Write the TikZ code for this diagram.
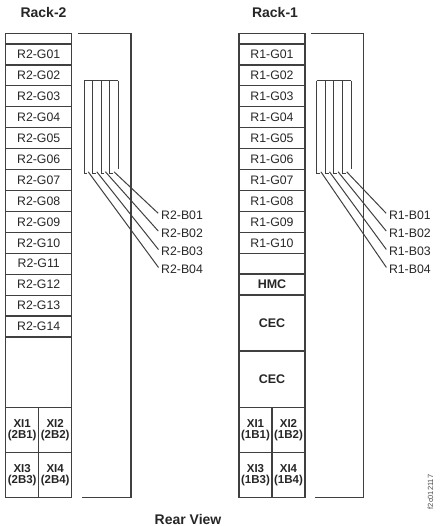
\documentclass[tikz,border=0pt]{standalone}
\usepackage{fontspec}
\setmainfont{Liberation Sans}
\begin{document}
\begin{tikzpicture}[x=1pt,y=-1pt,
  every node/.style={text=black!85},
  ln/.style={draw=black!75,line width=1.2pt},
  row/.style={draw=black!75,line width=1.2pt,minimum width=66pt,inner sep=0pt,font=\fontsize{12.3}{12}\selectfont,anchor=center},
  xi/.style={draw=black!75,line width=1.2pt,minimum width=33pt,inner sep=0pt,font=\bfseries\fontsize{11.5}{11}\selectfont,align=center,anchor=center},
  title/.style={font=\bfseries\fontsize{14}{14}\selectfont},
  blab/.style={anchor=west,inner sep=1pt,font=\fontsize{12.3}{12}\selectfont},
  cab/.style={draw=black!75,line width=1pt}]
\useasboundingbox (0,0) rectangle (439,526);
% titles
\node[title] (t2) at (43.5,13) {Rack-2};
\node[title] (t1) at (275,13) {Rack-1};
\node[title] (rv) at (188,519) {Rear View};
\node[rotate=90,font=\fontsize{7.5}{7.5}\selectfont,text=black!70] (fig) at (430.5,492) {f2c012117};
% ---------- Rack-2 stack
\node[row,minimum height=10.7pt] (r2top) at (38.7,38.65) {};
\foreach \k in {1,...,9}{
  \node[row,minimum height=20.93pt] (r2g\k) at (38.7,{44+(\k-0.5)*20.93}) {R2-G0\k};}
\foreach \k in {10,...,14}{
  \node[row,minimum height=20.93pt] (r2g\k) at (38.7,{44+(\k-0.5)*20.93}) {R2-G\k};}
\node[row,minimum height=70.8pt] (r2blank) at (38.7,372.3) {};
\node[xi,minimum height=45pt] (r2x1) at (22.2,430.2) {XI1\\(2B1)};
\node[xi,minimum height=45pt] (r2x2) at (55.2,430.2) {XI2\\(2B2)};
\node[xi,minimum height=44.6pt] (r2x3) at (22.2,475) {XI3\\(2B3)};
\node[xi,minimum height=44.6pt] (r2x4) at (55.2,475) {XI4\\(2B4)};
% ---------- Rack-1 stack
\node[row,minimum height=10.7pt] (r1top) at (272,38.65) {};
\foreach \k in {1,...,9}{
  \node[row,minimum height=20.93pt] (r1g\k) at (272,{44+(\k-0.5)*20.93}) {R1-G0\k};}
\node[row,minimum height=20.93pt] (r1g10) at (272,{44+9.5*20.93}) {R1-G10};
\node[row,minimum height=20.7pt] (r1blank) at (272,263.65) {};
\node[row,minimum height=21pt,font=\bfseries\fontsize{12.5}{12}\selectfont] (hmc) at (272,284.5) {HMC};
\node[row,minimum height=56pt,font=\bfseries\fontsize{12.5}{12}\selectfont] (cec1) at (272,323) {CEC};
\node[row,minimum height=56.7pt,font=\bfseries\fontsize{12.5}{12}\selectfont] (cec2) at (272,379.35) {CEC};
\node[xi,minimum height=45pt] (r1x1) at (255.5,430.2) {XI1\\(1B1)};
\node[xi,minimum height=45pt] (r1x2) at (288.5,430.2) {XI2\\(1B2)};
\node[xi,minimum height=44.6pt] (r1x3) at (255.5,475) {XI3\\(1B3)};
\node[xi,minimum height=44.6pt] (r1x4) at (288.5,475) {XI4\\(1B4)};
% ---------- frames
\draw[ln] (78,33.3) -- (131,33.3) -- (131,497.5) -- (82,497.5);
\draw[ln] (311,33.3) -- (363.5,33.3) -- (363.5,497.5) -- (315,497.5);
% ---------- cable bundles and labels
\foreach \r/\ox/\lx in {2/84/160, 1/316.7/387.8}{
  \draw[cab] (\ox,80.7) -- (\ox+34.4,80.7);
  \foreach \i in {0,1,2,3}{
    \draw[cab] (\ox+\i*8.6,80.7) -- (\ox+\i*8.6,173.3) -- (\ox+\i*8.6+3.2,173.3);
    \coordinate (s\r\i) at (\ox+\i*8.6+4.2,171.8);
  }
  \draw[cab] (\ox+34.4,80.7) -- (\ox+34.4,169.3);
  \node[blab] (b\r1) at (\lx,215) {R\r-B01};
  \node[blab] (b\r2) at (\lx,233) {R\r-B02};
  \node[blab] (b\r3) at (\lx,251.5) {R\r-B03};
  \node[blab] (b\r4) at (\lx,269.5) {R\r-B04};
  \draw[cab,shorten >=2.5pt] (s\r3) -- (b\r1.west);
  \draw[cab,shorten >=2.5pt] (s\r2) -- (b\r2.west);
  \draw[cab,shorten >=2.5pt] (s\r1) -- (b\r3.west);
  \draw[cab,shorten >=2.5pt] (s\r0) -- (b\r4.west);
}
\end{tikzpicture}
\end{document}
